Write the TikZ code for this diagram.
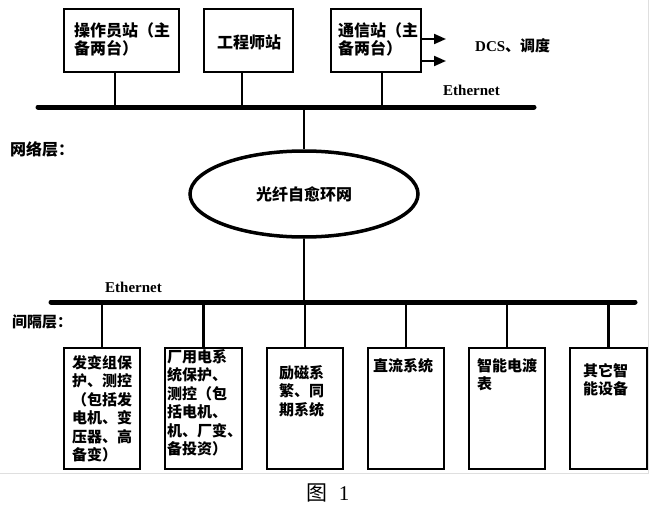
\documentclass[tikz,border=0pt]{standalone}
\usepackage{fontspec}
\setmainfont{Noto Sans CJK SC}
\newfontfamily\lat{Liberation Serif}
\usetikzlibrary{shapes.geometric,arrows.meta,calc}
\begin{document}
\begin{tikzpicture}[x=1pt,y=-1pt,
  box/.style={draw, line width=2pt, inner sep=0pt, anchor=north west},
  lbl/.style={inner sep=0pt, anchor=north west, align=left, font=\bfseries\fontsize{15}{18.5}\selectfont},
  toplbl/.style={inner sep=0pt, anchor=north west, align=left, font=\bfseries\fontsize{16}{18}\selectfont},
  bus/.style={line width=5pt, line cap=round},
  drop/.style={line width=2.2pt},
  arr/.style={line width=2pt, -{Triangle[length=12pt,width=10pt]}},
  latlbl/.style={inner sep=0pt, anchor=west, font=\lat\bfseries\fontsize{15}{15}\selectfont},
  layer/.style={inner sep=0pt, anchor=west}
]
\useasboundingbox (0,0) rectangle (659,514);
\fill[white] (0,0) rectangle (659,514);
% faint frame
\draw[gray!25, line width=0.8pt] (0,473) -- (648,473) -- (648,0);

% top boxes
\node[box, minimum width=115pt, minimum height=63pt] (b1) at (63,8) {};
\node[box, minimum width=89pt, minimum height=63pt] (b2) at (203,8) {};
\node[box, minimum width=90pt, minimum height=63pt] (b3) at (330,8) {};
\node[toplbl] (t1) at ([shift={(11,14)}]b1.north west) {操作员站（主\\备两台）};
\node[inner sep=0pt, font=\bfseries\fontsize{16}{18}\selectfont] (t2) at (249,42) {工程师站};
\node[toplbl] (t3) at ([shift={(8,14)}]b3.north west) {通信站（主\\备两台）};

% arrows to DCS
\coordinate (a1) at (446,39);
\coordinate (a2) at (446,61);
\draw[arr] (b3.east |- a1) -- (a1);
\draw[arr] (b3.east |- a2) -- (a2);
\node[inner sep=0pt, anchor=west, font=\bfseries\fontsize{15}{15}\selectfont] (dcs) at (475,46) {{\lat DCS}、调度};

% top bus
\coordinate (tbL) at (38,107);
\coordinate (tbR) at (534,107);
\draw[bus] (tbL) -- (tbR);
\node[latlbl] (eth1) at (443,90) {Ethernet};
\draw[drop] ([xshift=-6.5pt]b1.south) -- ([xshift=-6.5pt]b1.south |- tbL);
\draw[drop] ([xshift=-6.5pt]b2.south) -- ([xshift=-6.5pt]b2.south |- tbL);
\draw[drop] ([xshift=6pt]b3.south) -- ([xshift=6pt]b3.south |- tbL);

% network layer
\node[layer, font=\bfseries\fontsize{16}{16}\selectfont] (net) at (10,149) {网络层：};
\node[ellipse, draw, line width=3.5pt, minimum width=228pt, minimum height=86pt, inner sep=0pt,
      font=\bfseries\fontsize{16}{16}\selectfont] (ring) at (304,194) {光纤自愈环网};
\draw[drop] (ring.north |- tbL) -- (ring.north);

% lower bus
\coordinate (bbL) at (51,302);
\coordinate (bbR) at (635,302);
\draw[bus] (bbL) -- (bbR);
\draw[drop] (ring.south) -- (ring.south |- bbL);
\node[latlbl] (eth2) at (105,287) {Ethernet};
\node[layer, font=\bfseries\fontsize{15}{15}\selectfont] (bay) at (12,322) {间隔层：};

% bottom boxes
\node[box, minimum width=76pt, minimum height=121pt] (bA) at (63,347) {};
\node[box, minimum width=77pt, minimum height=121pt] (bB) at (164,347) {};
\node[box, minimum width=76pt, minimum height=121pt] (bC) at (266,347) {};
\node[box, minimum width=76pt, minimum height=121pt] (bD) at (367,347) {};
\node[box, minimum width=76pt, minimum height=121pt] (bE) at (468,347) {};
\node[box, minimum width=77pt, minimum height=121pt] (bF) at (569,347) {};

\node[lbl] (tA) at ([shift={(9,8)}]bA.north west) {发变组保\\护、测控\\（包括发\\电机、变\\压器、高\\备变）};
\node[lbl] (tB) at ([shift={(3,2)}]bB.north west) {厂用电系\\统保护、\\测控（包\\括电机、\\机、厂变、\\备投资）};
\node[lbl] (tC) at ([shift={(13,18)}]bC.north west) {励磁系\\繁、同\\期系统};
\node[lbl] (tD) at ([shift={(6,11)}]bD.north west) {直流系统};
\node[lbl] (tE) at ([shift={(9,11)}]bE.north west) {智能电渡\\表};
\node[lbl] (tF) at ([shift={(14,16)}]bF.north west) {其它智\\能设备};

\foreach \b in {bA,bB,bC,bD,bE,bF}{
  \draw[drop] (\b.north) -- (\b.north |- bbL);
}

% caption
\node[inner sep=0pt, font=\fontsize{21}{21}\selectfont] (cap) at (328,493) {图\hspace{11pt}{\lat 1}};
\end{tikzpicture}
\end{document}
